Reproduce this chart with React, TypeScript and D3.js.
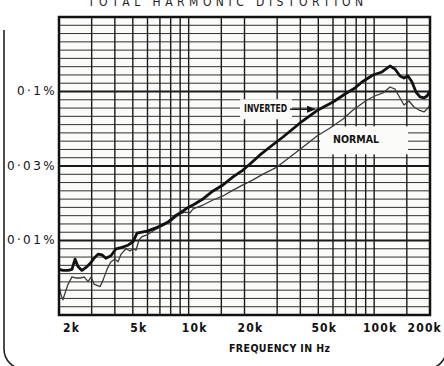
import React from "react";
import * as d3 from "d3";

// ---- data ----
const FREQ_TICKS = [2000, 5000, 10000, 20000, 50000, 100000, 200000];
const FREQ_LABELS = ["2k", "5k", "10k", "20k", "50k", "100k", "200k"];
const FREQ_GRID = [
  2000, 3000, 4000, 5000, 6000, 7000, 8000, 9000, 10000,
  15000, 20000, 30000, 40000, 50000, 60000, 70000, 80000, 90000, 100000,
  150000, 200000,
];
const THD_TICKS = [0.1, 0.0316, 0.01];
const THD_LABELS = ["0·1%", "0·03%", "0·01%"];

const INV_FREQ = [
  2000, 2100, 2240, 2350, 2440, 2530, 2660, 2800, 2940, 3090, 3250, 3410, 3580, 3810,
  4060, 4370, 4710, 5010, 5270, 5600, 6040, 6590, 7010, 7740, 8440, 8980, 9800, 10560,
  11950, 13530, 15320, 17340, 19630, 21410, 24240, 27450, 32240, 39840, 49190, 60030,
  69660, 78840, 85990, 98560, 110180, 121700, 129490, 137790, 144780, 152150, 159960,
  168070, 176640, 185630, 192620, 200000,
];
const INV_THD = [
  0.0064, 0.0063, 0.0063, 0.0064, 0.0075, 0.0067, 0.0063, 0.0066, 0.007, 0.0076, 0.0081,
  0.008, 0.0076, 0.0079, 0.0088, 0.009, 0.0093, 0.0098, 0.0112, 0.0114, 0.0116, 0.0121,
  0.0125, 0.0133, 0.0146, 0.0153, 0.0165, 0.0173, 0.019, 0.0215, 0.0236, 0.0267, 0.0297,
  0.0326, 0.0375, 0.0424, 0.0495, 0.0615, 0.0745, 0.085, 0.0962, 0.1056, 0.1158, 0.1291,
  0.1352, 0.1483, 0.1416, 0.1271, 0.1232, 0.1271, 0.1158, 0.0992, 0.0919, 0.0905, 0.0933,
  0.1008,
];

const NOR_FREQ = [
  2000, 2050, 2100, 2150, 2240, 2350, 2470, 2600, 2730, 2870, 2980, 3090, 3210, 3330,
  3450, 3630, 3810, 4010, 4160, 4320, 4600, 4830, 5010, 5200, 5400, 5600, 5960, 6590,
  7010, 7930, 8980, 9560, 10170, 10560, 11950, 13530, 15320, 17340, 19630, 22220, 25160,
  29940, 35190, 41340, 49190, 57830, 67950, 76910, 91490, 103550, 111550, 121700, 129490,
  137790, 144780, 154050, 163970, 174460, 185630, 195030, 200000,
];
const NOR_THD = [
  0.005, 0.0043, 0.004, 0.0044, 0.0051, 0.0057, 0.0056, 0.0056, 0.0057, 0.0053, 0.0057,
  0.0051, 0.005, 0.0049, 0.0054, 0.0064, 0.0072, 0.0075, 0.0072, 0.0081, 0.0088, 0.0085,
  0.0088, 0.0086, 0.0101, 0.0106, 0.0109, 0.0118, 0.0123, 0.0133, 0.0151, 0.0155, 0.0153,
  0.0163, 0.0173, 0.0187, 0.0199, 0.0218, 0.0236, 0.0255, 0.0279, 0.0311, 0.0363, 0.0424,
  0.0503, 0.0569, 0.0654, 0.0751, 0.0877, 0.0947, 0.0977, 0.1072, 0.1039, 0.0905, 0.0812,
  0.0863, 0.0787, 0.0751, 0.0729, 0.0775, 0.0812,
];

// ---- layout ----
const W = 444;
const H = 366;
const PL = 59;
const PR = 430;
const PT = 17;
const PB = 315;

const NARROW = "'Liberation Sans Narrow', 'DejaVu Sans Condensed', 'Liberation Sans', sans-serif";

export default function App() {
  const x = d3.scaleLog().domain([2000, 200000]).range([PL, PR]);
  const y = d3.scaleLog().domain([Math.pow(10, -2.5), Math.pow(10, -0.5)]).range([PB, PT]);

  const hGrid = d3.range(0, 37).map((i) => Math.pow(10, -2.5 + i / 18));
  const line = d3
    .line<[number, number]>()
    .x((d) => x(d[0]))
    .y((d) => y(d[1]));

  const inv = INV_FREQ.map((f, i) => [f, INV_THD[i]] as [number, number]);
  const nor = NOR_FREQ.map((f, i) => [f, NOR_THD[i]] as [number, number]);

  // label anchor points from the data scale
  const invLabelX = x(33500);
  const invLabelY = y(0.076);
  const norLabelX = x(60000);
  const norLabelY = y(0.047);

  return (
    <svg
      width={W}
      height={H}
      style={{ position: "absolute", left: 0, top: 0, background: "#fff" }}
    >
      {/* title (cut off at the top edge, as in the reference) */}
      <text
        x={88}
        y={6}
        fontFamily={NARROW}
        fontSize={12}
        textLength={275}
        lengthAdjust="spacing"
        fill="#222"
      >
        TOTAL HARMONIC DISTORTION
      </text>

      {/* outer frame */}
      <path
        d={`M4,30 V349 A20,20 0 0 0 24,369 H426.5 A20,20 0 0 0 446.5,349 V30`}
        fill="none"
        stroke="#222"
        strokeWidth={1.6}
      />

      {/* plot background */}
      <rect x={PL} y={PT} width={PR - PL} height={PB - PT} fill="#fbfcf9" />

      {/* horizontal grid */}
      {hGrid.map((v, i) => {
        const major = i % 9 === 0 && i > 0 && i < 36;
        return (
          <line
            key={"h" + i}
            x1={PL}
            x2={PR}
            y1={y(v)}
            y2={y(v)}
            stroke="#1a1a1a"
            strokeWidth={major ? 2.2 : 0.9}
          />
        );
      })}

      {/* vertical grid */}
      {FREQ_GRID.map((f, i) => (
        <line
          key={"v" + i}
          x1={x(f)}
          x2={x(f)}
          y1={PT}
          y2={PB}
          stroke="#1a1a1a"
          strokeWidth={1.4}
        />
      ))}

      {/* label boxes */}
      <rect x={invLabelX - 46} y={invLabelY - 10} width={52} height={20} fill="#fbfcf9" />
      <rect x={norLabelX - 13} y={norLabelY - 14} width={88} height={28} fill="#fbfcf9" />

      {/* curves */}
      <path d={line(nor) || ""} fill="none" stroke="#3a3a3a" strokeWidth={1.3} strokeLinejoin="round" />
      <path d={line(inv) || ""} fill="none" stroke="#111" strokeWidth={2.8} strokeLinejoin="round" />

      {/* border */}
      <rect x={PL} y={PT} width={PR - PL} height={PB - PT} fill="none" stroke="#111" strokeWidth={2.5} />

      {/* curve labels */}
      <text
        x={invLabelX - 42}
        y={invLabelY}
        dominantBaseline="middle"
        fontFamily={NARROW}
        fontWeight="bold"
        fontSize={11}
        textLength={43}
        lengthAdjust="spacingAndGlyphs"
        fill="#111"
      >
        INVERTED
      </text>
      <line
        x1={invLabelX + 4}
        x2={invLabelX + 24}
        y1={invLabelY}
        y2={invLabelY}
        stroke="#111"
        strokeWidth={1.4}
      />
      <path
        d={`M${invLabelX + 30},${invLabelY} L${invLabelX + 21},${invLabelY - 3.5} L${invLabelX + 21},${invLabelY + 3.5} Z`}
        fill="#111"
      />
      <text
        x={norLabelX}
        y={norLabelY}
        dominantBaseline="middle"
        fontFamily={NARROW}
        fontWeight="bold"
        fontSize={11}
        textLength={46}
        lengthAdjust="spacingAndGlyphs"
        fill="#111"
      >
        NORMAL
      </text>

      {/* y tick labels */}
      {THD_TICKS.map((v, i) => (
        <text
          key={"yl" + i}
          x={57}
          y={y(v)}
          textAnchor="end"
          dominantBaseline="middle"
          fontFamily="'DejaVu Sans', sans-serif"
          fontSize={12}
          letterSpacing={2.4}
          fill="#111"
        >
          {THD_LABELS[i]}
        </text>
      ))}

      {/* x tick labels */}
      {FREQ_TICKS.map((f, i) => {
        const last = i === FREQ_TICKS.length - 1;
        const first = i === 0;
        return (
          <text
            key={"xl" + i}
            x={first ? x(f) + 4 : last ? x(f) + 12 : x(f) + 6}
            y={328}
            textAnchor={first ? "start" : last ? "end" : "middle"}
            dominantBaseline="middle"
            fontFamily={NARROW}
            fontWeight="bold"
            fontSize={12}
            letterSpacing={1.2}
            fill="#111"
          >
            {FREQ_LABELS[i]}
          </text>
        );
      })}

      {/* x axis title */}
      <text
        x={229}
        y={349}
        dominantBaseline="middle"
        fontFamily={NARROW}
        fontWeight="bold"
        fontSize={10.5}
        textLength={101}
        lengthAdjust="spacing"
        fill="#111"
      >
        FREQUENCY IN Hz
      </text>
    </svg>
  );
}
